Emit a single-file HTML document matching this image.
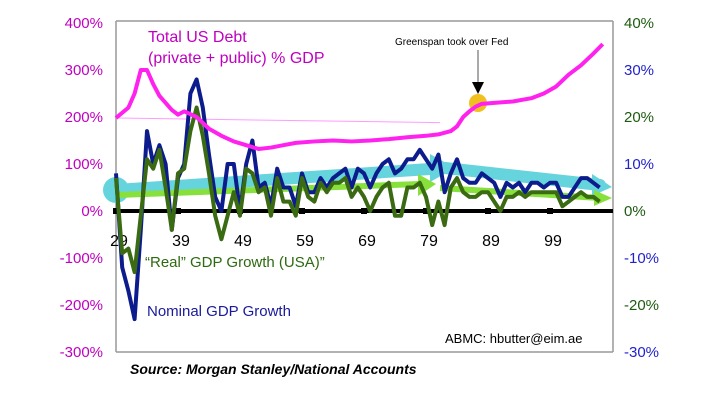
<!DOCTYPE html>
<html><head><meta charset="utf-8">
<style>
body{margin:0;background:#fff;}
svg{display:block;font-family:"Liberation Sans",sans-serif;}
</style></head>
<body>
<svg id="chart" width="720" height="404" viewBox="0 0 720 404" xmlns="http://www.w3.org/2000/svg">
<rect x="0" y="0" width="720" height="404" fill="#fff"/>
<g id="frame">
<line x1="116" y1="21" x2="116" y2="352" stroke="#999" stroke-width="1.5"/>
<line x1="116" y1="21" x2="613" y2="21" stroke="#999" stroke-width="1.5"/>
<line x1="613" y1="21" x2="613" y2="352" stroke="#999" stroke-width="1.5"/>
<line x1="116" y1="352" x2="613" y2="352" stroke="#999" stroke-width="1.5"/>
</g>
<g id="axes"></g>
<g id="trends"></g>
<g id="series"></g>
<text x="148" y="42" font-size="16" fill="#c000c0">Total US Debt</text>
<text x="148" y="63" font-size="16" fill="#c000c0">(private + public) % GDP</text>
<text x="395" y="45" font-size="10" fill="#000">Greenspan took over Fed</text>
<line x1="478" y1="50" x2="478" y2="86" stroke="#555" stroke-width="1"/>
<polygon points="472,82 484,82 478,94" fill="#000"/>
<text x="145" y="267" font-size="15" fill="#2d6a10">“Real” GDP Growth (USA)”</text>
<text x="147" y="316" font-size="15" fill="#1a1a9a">Nominal GDP Growth</text>
<text x="445" y="343" font-size="13" fill="#000">ABMC: hbutter@eim.ae</text>
<text x="130" y="374" font-size="14" font-weight="bold" font-style="italic" fill="#000">Source: Morgan Stanley/National Accounts</text>
</svg>
<script>
const years = [];
for (let y = 1929; y <= 2007; y++) years.push(y);
const debtYears = [1929,1931,1932,1933,1934,1935,1936,1938,1939,1940,1942,1944,1946,1948,1950,1952,1954,1956,1958,1961,1964,1967,1970,1973,1976,1979,1981,1983,1984,1985,1986,1987,1988,1990,1993,1996,1998,2000,2002,2004,2006,2007.5];
const debtValues = [198,220,250,300,300,270,245,215,205,212,200,175,160,148,140,132,135,140,145,148,150,148,150,153,157,160,163,170,180,200,212,222,228,230,233,240,250,265,290,310,335,355];
const nominalGrowth = [8,-12,-17,-23,-4,17,10,14,10,-4,7,10,25,28,22,12,3,0,10,10,0,10,15,5,6,1,9,5,5,1,8,4,4,7,5,7,8,9,5,9,8,5,8,10,11,8,9,11,11,13,11,9,12,4,8,11,7,6,6,8,7,6,3,6,5,6,4,6,6,5,6,6,3,3,5,7,7,6,5];
const realGrowth = [7,-9,-8,-13,-1,11,9,13,5,-4,8,9,17,22,16,8,-1,-6,-1,4,-1,9,8,4,5,-1,7,2,2,-1,7,3,2,6,4,6,6,7,3,5,3,0,3,5,6,-1,-1,5,5,6,3,-3,2,-3,5,7,4,3,3,4,4,2,0,3,3,4,3,4,4,4,4,4,1,2,3,4,3,3,2];
const leftTicks = [400,300,200,100,0,-100,-200,-300];
const rightTicks = [40,30,20,10,0,-10,-20,-30];
const rightTickColors = ["#1e5a10","#2222cc","#1e5a10","#2222cc","#1e5a10","#2222cc","#1e5a10","#2222cc"];
const xTickYears = [1929,1939,1949,1959,1969,1979,1989,1999];

const NS = "http://www.w3.org/2000/svg";
const xS = y => 116 + (y - 1929) * 6.2;
const yL = v => 211 - v * 0.47;
const yR = v => 211 - v * 4.7;
function mk(tag, attrs, parent) {
  const e = document.createElementNS(NS, tag);
  for (const k in attrs) e.setAttribute(k, attrs[k]);
  parent.appendChild(e);
  return e;
}
const axes = document.getElementById('axes');
leftTicks.forEach(v => {
  const t = mk('text', {x: 103, y: yL(v) + 5, 'text-anchor': 'end', 'font-size': 15, fill: '#c000c0'}, axes);
  
  
  t.textContent = v + '%';
});
rightTicks.forEach((v, i) => {
  const t = mk('text', {x: 624, y: yR(v) + 5, 'font-size': 15, fill: rightTickColors[i]}, axes);
  
  
  t.textContent = v + '%';
});
xTickYears.forEach(y => {
  const t = mk('text', {x: xS(y) + 3, y: 246, 'text-anchor': 'middle', 'font-size': 16, fill: '#000'}, axes);
  
  
  t.textContent = String(y).slice(2);
});
const g1 = mk('line', {x1: 116, y1: yL(198), x2: 440, y2: yL(188), stroke: '#ff9cff', 'stroke-width': 1}, axes);



const tr = document.getElementById('trends');
const cyanBand = mk('path', {d: `M116,190 L445,168 M445,168 L600,185`, stroke: '#66d4dc', 'stroke-width': 12, fill: 'none', 'stroke-linecap': 'round'}, tr);


const cyanHead1 = mk('polygon', {points: '430,154 455,168 430,182', fill: '#66d4dc'}, tr);


const cyanHead2 = mk('polygon', {points: '592,174 612,187 592,196', fill: '#66d4dc'}, tr);


const cyanDot = mk('circle', {cx: 116, cy: 190, r: 13, fill: '#66d4dc'}, tr);


const greenBand = mk('path', {d: `M116,195 L420,184 M440,188 L600,198`, stroke: '#88e03c', 'stroke-width': 6, fill: 'none'}, tr);


const greenHead1 = mk('polygon', {points: '418,174 436,184 418,196', fill: '#88e03c'}, tr);


const greenHead2 = mk('polygon', {points: '594,190 612,198 594,206', fill: '#88e03c'}, tr);



const zero = mk('line', {x1: 116, y1: yR(0), x2: 613, y2: yR(0), stroke: '#000', 'stroke-width': 4}, tr);


xTickYears.forEach(y => {
  const m = mk('rect', {x: xS(y) - 3, y: yR(0) - 3, width: 6, height: 6, fill: '#000'}, tr);
  
  
});

const se = document.getElementById('series');
const nomPts = nominalGrowth.map((v, i) => xS(years[i]) + ',' + yR(v)).join(' ');
const nom = mk('polyline', {points: nomPts, fill: 'none', stroke: '#0c1c8c', 'stroke-width': 4, 'stroke-linejoin': 'round'}, se);


const realPts = realGrowth.map((v, i) => xS(years[i]) + ',' + yR(v)).join(' ');
const real = mk('polyline', {points: realPts, fill: 'none', stroke: '#3a6a12', 'stroke-width': 4, 'stroke-linejoin': 'round'}, se);


const circ = mk('circle', {cx: 478, cy: 103, r: 9, fill: '#f0c020'}, se);


const debtPts = debtValues.map((v, i) => xS(debtYears[i]) + ',' + yL(v)).join(' ');
const debt = mk('polyline', {points: debtPts, fill: 'none', stroke: '#ff22ee', 'stroke-width': 4, 'stroke-linejoin': 'round'}, se);


</script>
</body></html>
